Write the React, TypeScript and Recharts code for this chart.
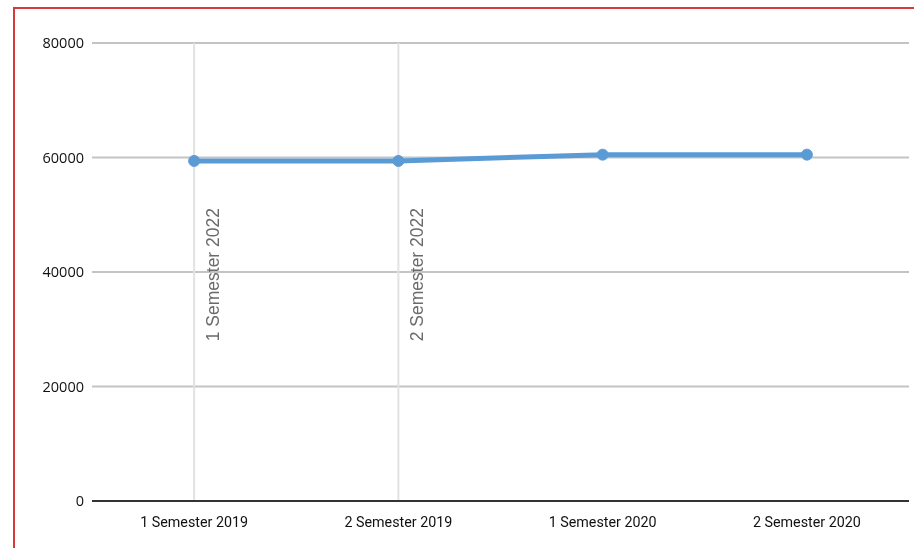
import React from "react";
import {
    LineChart,
    Line,
    XAxis,
    YAxis,
    CartesianGrid,
    ReferenceLine,
} from "recharts";

const semesters = ["1 Semester 2019", "2 Semester 2019", "1 Semester 2020", "2 Semester 2020"];
const values = [59400, 59400, 60500, 60500];
const yTicks = [0, 20000, 40000, 60000, 80000];
const markers = [
    { at: "1 Semester 2019", label: "1 Semester 2022" },
    { at: "2 Semester 2019", label: "2 Semester 2022" },
];

const data = semesters.map((name, i) => ({ name, value: values[i] }));

function MarkerLabel(props: any) {
    const { viewBox, value } = props;
    const x = viewBox.x + 19;
    const y = viewBox.y + 165;
    return (
        <text
            x={x}
            y={y}
            transform={`rotate(-90, ${x}, ${y})`}
            textAnchor="end"
            dominantBaseline="central"
            fill="#6b6b6b"
            fontSize={17.5}
            fontFamily="Liberation Sans, Arial, sans-serif"
        >
            {value}
        </text>
    );
}

export default function App() {
    return (
        <>
            <div
                style={{
                    position: "fixed",
                    left: 13,
                    top: 7,
                    width: 901,
                    height: 541,
                    borderLeft: "2px solid #d63a3a",
                    borderTop: "2px solid #d63a3a",
                    boxSizing: "border-box",
                }}
            />
            <div style={{ position: "fixed", left: 0, top: 0 }}>
                <LineChart
                    width={916}
                    height={548}
                    data={data}
                    margin={{ top: 43, right: 7, bottom: 17, left: 0 }}
                >
                    <CartesianGrid vertical={false} stroke="#c4c4c4" strokeWidth={2} />
                    <XAxis
                        dataKey="name"
                        scale="band"
                        height={30}
                        tickLine={false}
                        tickMargin={10}
                        axisLine={{ stroke: "#333", strokeWidth: 2 }}
                        tick={{ fill: "#111", fontSize: 14.3, fontFamily: "Roboto, sans-serif" }}
                    />
                    <YAxis
                        width={92}
                        domain={[0, 80000]}
                        ticks={yTicks}
                        axisLine={false}
                        tickLine={false}
                        tick={{ fill: "#111", fontSize: 14.5, fontFamily: "Open Sans, sans-serif" }}
                    />
                    {markers.map((m) => (
                        <ReferenceLine
                            key={m.label}
                            x={m.at}
                            stroke="#e2e2e2"
                            strokeWidth={2}
                            label={<MarkerLabel value={m.label} />}
                        />
                    ))}
                    <Line
                        type="linear"
                        dataKey="value"
                        stroke="#5b9bd5"
                        strokeWidth={5}
                        dot={{ r: 5.5, fill: "#5b9bd5", stroke: "#5b9bd5", strokeWidth: 1 }}
                        activeDot={false}
                        isAnimationActive={false}
                    />
                </LineChart>
            </div>
        </>
    );
}
